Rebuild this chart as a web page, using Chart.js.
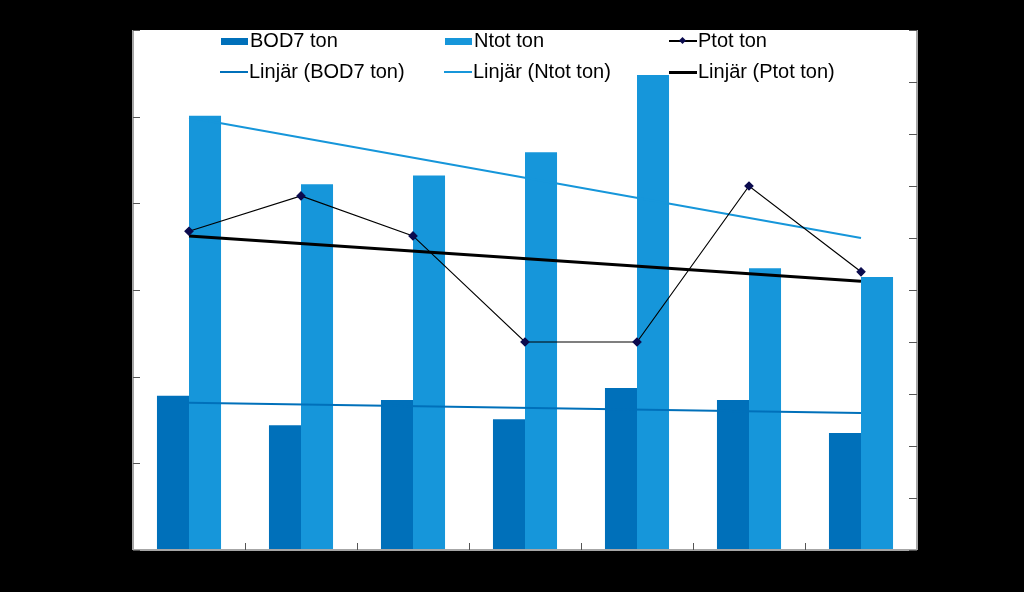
<!DOCTYPE html>
<html>
<head>
<meta charset="utf-8">
<script src="https://cdn.jsdelivr.net/npm/chart.js@4.4.0/dist/chart.umd.min.js"></script>
<style>
  html, body { margin: 0; padding: 0; background: #000; }
  #wrap { position: relative; width: 1024px; height: 592px; background: #000; }
  canvas { position: absolute; left: 0; top: 0; }
  .leg { position: absolute; font-family: "Liberation Sans", Arial, sans-serif; font-size: 20px; color: #000; white-space: nowrap; line-height: 22px; }
  .mk { position: absolute; }
</style>
</head>
<body>
<div id="wrap">
  <canvas id="c" width="1024" height="592"></canvas>
  <div id="legend"></div>
</div>
<script>
// ---- data ----
const categories = ['1', '2', '3', '4', '5', '6', '7'];
const bod7 = [178, 144, 173, 151, 187, 173, 135];          // left axis
const ntot = [501, 422, 432, 459, 548, 325, 315];          // left axis
const ptot = [6.13, 6.81, 6.04, 4.0, 4.0, 7.0, 5.35];      // right axis
// trend lines: values at first and last category
const trendCats = ['1', '7'];
const bod7Trend = [170, 158];
const ntotTrend = [499, 360];
const ptotTrend = [6.04, 5.17];
const leftTicks = { min: 0, max: 600, step: 100 };
const rightTicks = { min: 0, max: 10, step: 1 };

const C_BOD = '#0070BA';
const C_NTOT = '#1696DA';
const C_P = '#0B0B4E';

function pts(cats, vals) { return cats.map((c, i) => ({ x: c, y: vals[i] })); }

const bgPlugin = {
  id: 'bg',
  beforeDraw(chart) {
    const { ctx, chartArea: a } = chart;
    ctx.save();
    ctx.fillStyle = '#ffffff';
    ctx.fillRect(a.left, a.top, a.right - a.left, a.bottom - a.top);
    ctx.restore();
  },
  afterDraw(chart) {
    const { ctx, chartArea: a, scales } = chart;
    ctx.save();
    // axis lines
    ctx.strokeStyle = '#a6a6a6';
    ctx.lineWidth = 2;
    ctx.beginPath();
    ctx.moveTo(a.left, a.top); ctx.lineTo(a.left, a.bottom);
    ctx.moveTo(a.left, a.bottom); ctx.lineTo(a.right, a.bottom);
    ctx.moveTo(a.right, a.top); ctx.lineTo(a.right, a.bottom);
    ctx.stroke();
    // tick marks (inside)
    ctx.strokeStyle = '#555';
    ctx.lineWidth = 1;
    ctx.beginPath();
    scales.y.ticks.forEach((t, i) => {
      const y = Math.round(scales.y.getPixelForTick(i)) + 0.5;
      ctx.moveTo(a.left, y); ctx.lineTo(a.left + 7, y);
    });
    scales.y2.ticks.forEach((t, i) => {
      const y = Math.round(scales.y2.getPixelForTick(i)) + 0.5;
      ctx.moveTo(a.right, y); ctx.lineTo(a.right - 8, y);
    });
    const xs = scales.x;
    for (let i = 1; i < categories.length; i++) {
      const x = Math.round((xs.getPixelForValue(i - 1) + xs.getPixelForValue(i)) / 2) + 0.5;
      ctx.moveTo(x, a.bottom); ctx.lineTo(x, a.bottom - 7);
    }
    ctx.stroke();
    ctx.restore();
  }
};

new Chart(document.getElementById('c'), {
  data: {
    labels: categories,
    datasets: [
      { type: 'line', label: 'Ptot ton', data: ptot, yAxisID: 'y2', borderColor: '#000', borderWidth: 1.2,
        pointStyle: 'rectRot', pointRadius: 4, pointBackgroundColor: C_P, pointBorderColor: C_P, order: 0, tension: 0 },
      { type: 'line', label: 'Linjär (Ptot ton)', data: pts(trendCats, ptotTrend), yAxisID: 'y2', borderColor: '#000', borderWidth: 3,
        pointRadius: 0, order: 1 },
      { type: 'line', label: 'Linjär (BOD7 ton)', data: pts(trendCats, bod7Trend), yAxisID: 'y', borderColor: C_BOD, borderWidth: 2,
        pointRadius: 0, order: 2 },
      { type: 'line', label: 'Linjär (Ntot ton)', data: pts(trendCats, ntotTrend), yAxisID: 'y', borderColor: C_NTOT, borderWidth: 2,
        pointRadius: 0, order: 2 },
      { type: 'bar', label: 'BOD7 ton', data: bod7, yAxisID: 'y', backgroundColor: C_BOD, borderWidth: 0,
        categoryPercentage: 0.572, barPercentage: 1.0, order: 5 },
      { type: 'bar', label: 'Ntot ton', data: ntot, yAxisID: 'y', backgroundColor: C_NTOT, borderWidth: 0,
        categoryPercentage: 0.572, barPercentage: 1.0, order: 5 }
    ]
  },
  options: {
    responsive: false,
    animation: false,
    layout: { padding: { left: 133, top: 30, right: 107, bottom: 42 } },
    plugins: { legend: { display: false }, tooltip: { enabled: false } },
    scales: {
      x: { type: 'category', display: false, offset: true },
      y: { display: false, min: leftTicks.min, max: leftTicks.max, ticks: { stepSize: leftTicks.step } },
      y2: { display: false, position: 'right', min: rightTicks.min, max: rightTicks.max, ticks: { stepSize: rightTicks.step } }
    }
  },
  plugins: [bgPlugin]
});

// ---- legend (HTML overlay) ----
const legendItems = [
  { text: 'BOD7 ton', kind: 'box', color: C_BOD, x: 221, y: 41 },
  { text: 'Ntot ton', kind: 'box', color: C_NTOT, x: 445, y: 41 },
  { text: 'Ptot ton', kind: 'marker', color: '#000', x: 669, y: 41 },
  { text: 'Linjär (BOD7 ton)', kind: 'line', color: C_BOD, x: 220, y: 72 },
  { text: 'Linjär (Ntot ton)', kind: 'line', color: C_NTOT, x: 444, y: 72 },
  { text: 'Linjär (Ptot ton)', kind: 'thick', color: '#000', x: 669, y: 72 }
];
const lg = document.getElementById('legend');
legendItems.forEach(it => {
  let mk = '';
  if (it.kind === 'box') {
    mk = `<div class="mk" style="left:${it.x}px;top:${it.y - 3}px;width:27px;height:7px;background:${it.color}"></div>`;
  } else if (it.kind === 'line') {
    mk = `<div class="mk" style="left:${it.x}px;top:${it.y - 1}px;width:28px;height:2px;background:${it.color}"></div>`;
  } else if (it.kind === 'thick') {
    mk = `<div class="mk" style="left:${it.x}px;top:${it.y - 1}px;width:28px;height:3px;background:${it.color}"></div>`;
  } else {
    mk = `<div class="mk" style="left:${it.x}px;top:${it.y - 1}px;width:28px;height:1.5px;background:#000"></div>` +
         `<div class="mk" style="left:${it.x + 11}px;top:${it.y - 3.5}px;width:5px;height:5px;background:${C_P};transform:rotate(45deg)"></div>`;
  }
  lg.insertAdjacentHTML('beforeend', mk +
    `<div class="leg" style="left:${it.x + 29}px;top:${it.y - 12}px">${it.text}</div>`);
});
</script>
</body>
</html>
